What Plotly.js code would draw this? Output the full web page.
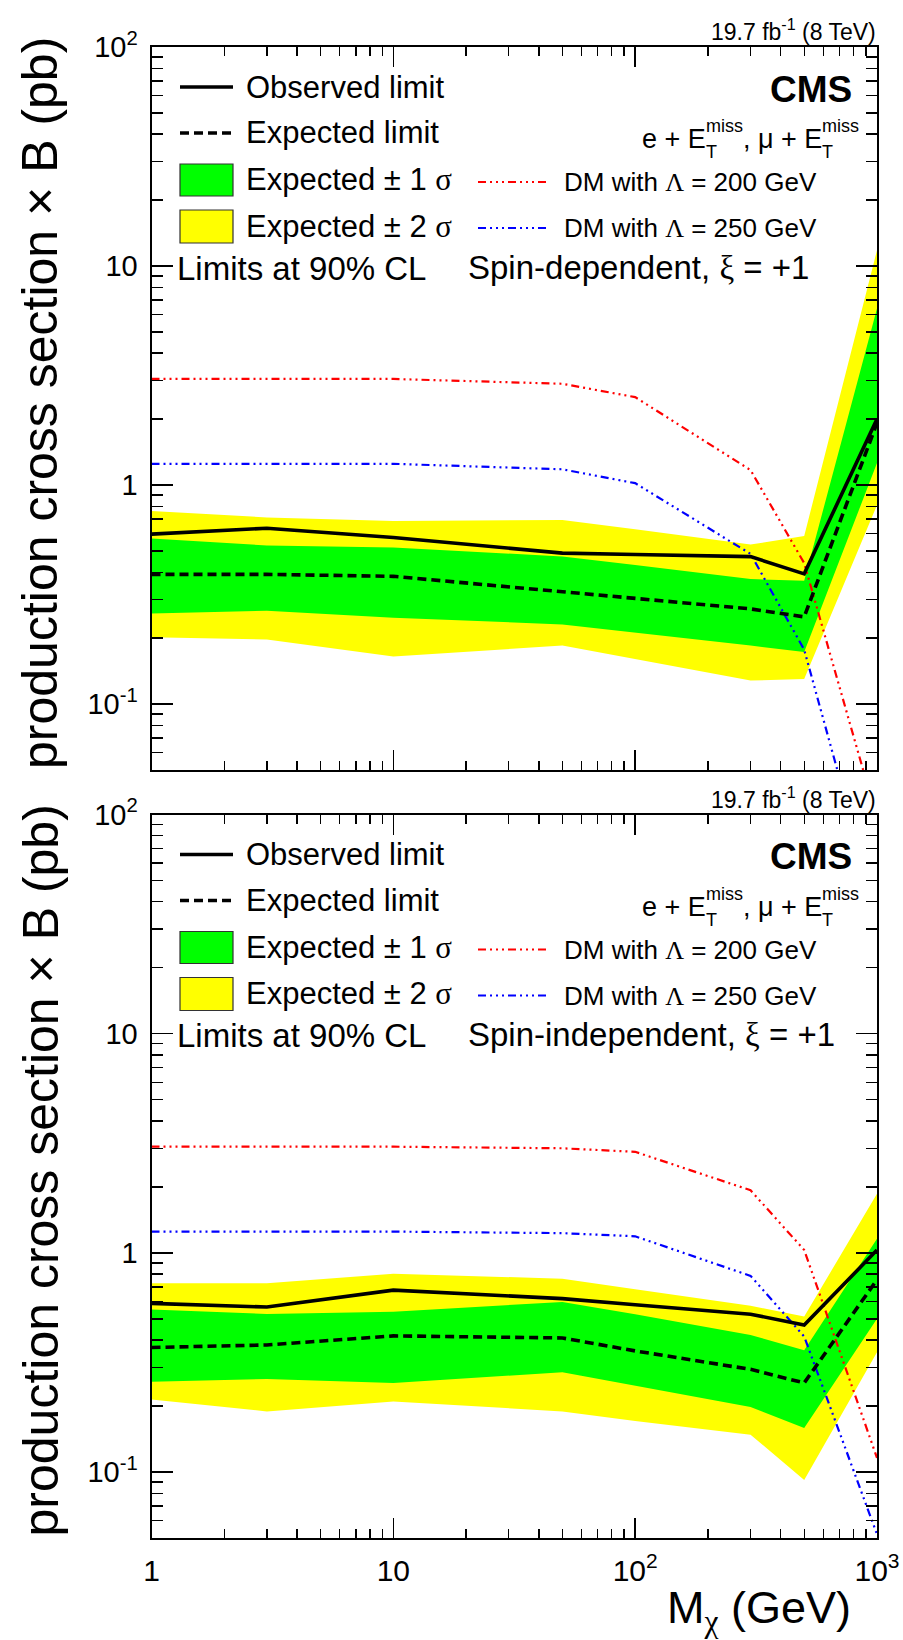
<!DOCTYPE html>
<html><head><meta charset="utf-8">
<script src="https://cdn.plot.ly/plotly-3.0.1.min.js"></script>
<style>html,body{margin:0;padding:0;background:#fff;} #chart{width:903px;height:1640px;}</style>
</head><body><div id="chart"></div>
<script>
// ---------------- data ----------------
const mass = [1, 3, 10, 50, 100, 300, 500, 1000];

// Spin-dependent, xi = +1 (top panel)
const sdObserved = [0.597, 0.635, 0.576, 0.489, 0.482, 0.471, 0.393, 2.0];
const sdExpected = [0.391, 0.391, 0.383, 0.325, 0.303, 0.272, 0.250, 1.92];
const sdOneSigUp = [0.570, 0.530, 0.519, 0.472, 0.431, 0.372, 0.366, 6.4];
const sdOneSigLo = [0.259, 0.267, 0.248, 0.231, 0.213, 0.185, 0.173, 1.26];
const sdTwoSigUp = [0.762, 0.711, 0.686, 0.693, 0.629, 0.535, 0.585, 11.8];
const sdTwoSigLo = [0.202, 0.197, 0.165, 0.185, 0.161, 0.128, 0.130, 0.81];
const sdDM200 = [3.05, 3.05, 3.05, 2.90, 2.52, 1.17, 0.44, 0.030];
const sdDM250 = [1.25, 1.25, 1.25, 1.18, 1.02, 0.485, 0.177, 0.011];

// Spin-independent, xi = +1 (bottom panel)
const siObserved = [0.588, 0.566, 0.676, 0.618, 0.580, 0.525, 0.468, 1.03];
const siExpected = [0.370, 0.380, 0.418, 0.409, 0.357, 0.294, 0.255, 0.754];
const siOneSigUp = [0.552, 0.526, 0.539, 0.597, 0.524, 0.422, 0.359, 1.16];
const siOneSigLo = [0.258, 0.266, 0.255, 0.285, 0.248, 0.198, 0.159, 0.50];
const siTwoSigUp = [0.726, 0.726, 0.803, 0.762, 0.682, 0.574, 0.512, 1.86];
const siTwoSigLo = [0.214, 0.189, 0.210, 0.189, 0.171, 0.148, 0.092, 0.352];
const siDM200 = [3.05, 3.05, 3.05, 3.00, 2.89, 1.93, 1.03, 0.116];
const siDM250 = [1.25, 1.25, 1.25, 1.23, 1.19, 0.785, 0.415, 0.052];

// tick labels
const yTickVals = [0.1, 1, 10, 100];
const yTickText = ['10<sup>-1</sup>', '1', '10', '10<sup>2</sup>'];
const xTickVals = [1, 10, 100, 1000];
const xTickText = ['1', '10', '10<sup>2</sup>', '10<sup>3</sup>'];

// text
const legendLeft = ['Observed limit', 'Expected limit', 'Expected ± 1 ', 'Expected ± 2 '];
const legendDM = ['DM with ', ' = 200 GeV', ' = 250 GeV'];
const panelLabels = ['Spin-dependent, ', 'Spin-independent, '];
const yTitle = 'production cross section × B (pb)';

// ---------------- helpers ----------------
const W = 903, H = 1640;
const FONT = 'Liberation Sans, Arial, Helvetica, sans-serif';
const SERIF = 'Liberation Serif, Times New Roman, serif';
const px = x => x / W;
const py = y => 1 - y / H;
const greek = g => '<span style="font-family:' + SERIF + '">' + g + '</span>';
const DMDASH = '8px,4px,2px,4px,2px,4px,2px,4px';
const YELLOW = '#ffff00', GREEN = '#00ff00', RED = '#ff0000', BLUE = '#0000ff';

function band(xs, up, lo) {
  return { x: xs.concat(xs.slice().reverse()), y: up.concat(lo.slice().reverse()) };
}

function panelTraces(xa, ya, obs, exp, s1u, s1l, s2u, s2l, dm200, dm250) {
  const b2 = band(mass, s2u, s2l), b1 = band(mass, s1u, s1l);
  return [
    { x: b2.x, y: b2.y, xaxis: xa, yaxis: ya, type: 'scatter', mode: 'lines', fill: 'toself',
      fillcolor: YELLOW, line: { width: 0, color: YELLOW }, showlegend: false, hoverinfo: 'skip' },
    { x: b1.x, y: b1.y, xaxis: xa, yaxis: ya, type: 'scatter', mode: 'lines', fill: 'toself',
      fillcolor: GREEN, line: { width: 0, color: GREEN }, showlegend: false, hoverinfo: 'skip' },
    { x: mass, y: dm200, xaxis: xa, yaxis: ya, type: 'scatter', mode: 'lines',
      line: { color: RED, width: 2.2, dash: DMDASH }, showlegend: false },
    { x: mass, y: dm250, xaxis: xa, yaxis: ya, type: 'scatter', mode: 'lines',
      line: { color: BLUE, width: 2.2, dash: DMDASH }, showlegend: false },
    { x: mass, y: exp, xaxis: xa, yaxis: ya, type: 'scatter', mode: 'lines',
      line: { color: '#000', width: 3.6, dash: '9px,5px' }, showlegend: false },
    { x: mass, y: obs, xaxis: xa, yaxis: ya, type: 'scatter', mode: 'lines',
      line: { color: '#000', width: 3.6 }, showlegend: false }
  ];
}

const data = [].concat(
  panelTraces('x', 'y', sdObserved, sdExpected, sdOneSigUp, sdOneSigLo, sdTwoSigUp, sdTwoSigLo, sdDM200, sdDM250),
  panelTraces('x2', 'y2', siObserved, siExpected, siOneSigUp, siOneSigLo, siTwoSigUp, siTwoSigLo, siDM200, siDM250)
);

// minor tick values
const yMinor = [], xMinor = [];
[0.01, 0.1, 1, 10].forEach(d => { for (let k = 2; k <= 9; k++) yMinor.push(+(k * d).toPrecision(3)); });
[1, 10, 100].forEach(d => { for (let k = 2; k <= 9; k++) xMinor.push(k * d); });

function xAxis(anchor, domain, showLabels) {
  return {
    type: 'log', range: [0, 3], domain: domain, anchor: anchor,
    showgrid: false, zeroline: false, showline: true, linecolor: '#000', linewidth: 2,
    mirror: 'allticks', ticks: 'inside', ticklen: 20, tickwidth: 1.6, tickcolor: '#000',
    tickmode: 'array', tickvals: xTickVals, ticktext: xTickText,
    showticklabels: showLabels, ticklabelstandoff: 5,
    tickfont: { family: FONT, size: 30, color: '#000' },
    minor: { tickmode: 'array', tickvals: xMinor, ticks: 'inside', ticklen: 9, tickwidth: 1.4,
             tickcolor: '#000', showgrid: false }
  };
}
function yAxis(anchor, domain) {
  return {
    type: 'log', range: [Math.log10(0.05), 2], domain: domain, anchor: anchor,
    showgrid: false, zeroline: false, showline: true, linecolor: '#000', linewidth: 2,
    mirror: 'allticks', ticks: 'inside', ticklen: 21, tickwidth: 1.6, tickcolor: '#000',
    tickmode: 'array', tickvals: yTickVals, ticktext: yTickText, ticklabelstandoff: 6,
    tickfont: { family: FONT, size: 29, color: '#000' },
    minor: { tickmode: 'array', tickvals: yMinor, ticks: 'inside', ticklen: 11, tickwidth: 1.4,
             tickcolor: '#000', showgrid: false }
  };
}

const XD = [px(151.5), px(877)];
const annotations = [], shapes = [];
function txt(text, x, y, size, anchor, extra) {
  annotations.push(Object.assign({
    text: text, xref: 'paper', yref: 'paper', x: px(x), y: py(y), xanchor: anchor, yanchor: 'middle',
    showarrow: false, font: { family: FONT, size: size, color: '#000' }
  }, extra || {}));
}
function lineShape(x0, x1, y, color, width, dash) {
  shapes.push({ type: 'line', xref: 'paper', yref: 'paper', x0: px(x0), x1: px(x1), y0: py(y), y1: py(y),
    line: { color: color, width: width, dash: dash || 'solid' } });
}
function boxShape(x0, x1, y0, y1, fill) {
  shapes.push({ type: 'rect', xref: 'paper', yref: 'paper', x0: px(x0), x1: px(x1), y0: py(y1), y1: py(y0),
    fillcolor: fill, line: { color: '#333', width: 1.2 } });
}

// channel label "e + E_T^miss, mu + E_T^miss" with stacked sub/superscripts
const CH = 27, CHS = 18;            // main / script font size
const chPieces = ['e + E', ', μ + E'];
const chWidthEm = [2.363, 2.939];   // Arial-metric widths of the pieces (em)
const missWidthEm = 2.055;

[0, 767.5].forEach((dy, i) => {
  txt('19.7 fb<sup>-1</sup> (8 TeV)', 878, 30 + dy, 23, 'right');
  txt('<b>CMS</b>', 854, 89 + dy, 37, 'right');
  let cx = 641;
  chPieces.forEach((p, k) => {
    txt(p, cx, 139 + dy, CH, 'left', { borderpad: 0 });
    cx += chWidthEm[k] * CH;
    txt('miss', cx, 126 + dy, CHS, 'left', { borderpad: 0 });
    txt('T', cx, 152 + dy, CHS, 'left', { borderpad: 0 });
    cx += missWidthEm * CHS;
  });
  lineShape(180, 233, 87 + dy, '#000', 3.6);
  lineShape(180, 233, 133 + dy, '#000', 3.6, '9px,5px');
  boxShape(180, 233, 164 + dy, 196 + dy, GREEN);
  boxShape(180, 233, 210 + dy, 243 + dy, YELLOW);
  txt(legendLeft[0], 244, 87 + dy, 31, 'left');
  txt(legendLeft[1], 244, 133 + dy, 31, 'left');
  txt(legendLeft[2] + greek('σ'), 244, 180 + dy, 31, 'left');
  txt(legendLeft[3] + greek('σ'), 244, 226 + dy, 31, 'left');
  txt('Limits at 90% CL', 175, 268 + dy, 33, 'left');
  lineShape(478, 550, 182 + dy, RED, 2.2, DMDASH);
  lineShape(478, 550, 228 + dy, BLUE, 2.2, DMDASH);
  txt(legendDM[0] + greek('Λ') + legendDM[1], 562, 182 + dy, 26, 'left');
  txt(legendDM[0] + greek('Λ') + legendDM[2], 562, 228 + dy, 26, 'left');
  txt(panelLabels[i] + greek('ξ') + ' = +1', 466, 267 + dy, 33, 'left');
  txt(yTitle, 40, 403 + dy, 50, 'center', { textangle: -90 });
});
txt('M<sub>' + greek('χ') + '</sub> (GeV)', 852, 1640, 45, 'right', { borderpad: 0, yanchor: 'bottom' });

const layout = {
  width: W, height: H,
  margin: { l: 0, r: 0, t: 0, b: 0 },
  paper_bgcolor: '#fff', plot_bgcolor: '#fff',
  showlegend: false,
  font: { family: FONT, color: '#000' },
  xaxis: xAxis('y', XD, false),
  yaxis: yAxis('x', [py(770), py(47)]),
  xaxis2: xAxis('y2', XD, true),
  yaxis2: yAxis('x2', [py(1538), py(814.5)]),
  annotations: annotations,
  shapes: shapes
};

Plotly.newPlot('chart', data, layout, { staticPlot: true, displayModeBar: false });
</script>
</body></html>
